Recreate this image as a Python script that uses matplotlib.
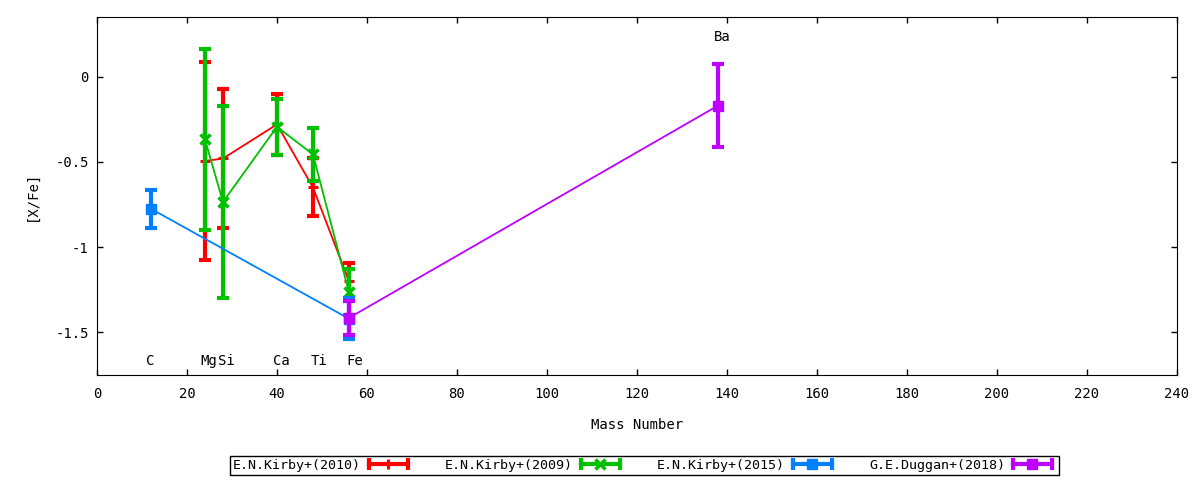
import matplotlib
matplotlib.use('Agg')
import matplotlib.pyplot as plt
from matplotlib.lines import Line2D
from matplotlib.legend_handler import HandlerLine2D, HandlerTuple

plt.rcParams['font.family'] = ['DejaVu Sans Mono']
plt.rcParams['font.size'] = 10

# Datos: [X/Fe] en funcion del numero masico
kirby2010_x = [24, 28, 40, 48, 56]
kirby2010_y = [-0.495, -0.48, -0.28, -0.65, -1.20]
kirby2010_err = [0.58, 0.41, 0.18, 0.17, 0.105]

kirby2009_x = [24, 28, 40, 48, 56]
kirby2009_y = [-0.368, -0.735, -0.294, -0.456, -1.265]
kirby2009_err = [0.53, 0.565, 0.165, 0.155, 0.135]

kirby2015_x = [12, 56]
kirby2015_y = [-0.775, -1.42]
kirby2015_err = [0.11, 0.12]

duggan2018_x = [56, 138]
duggan2018_y = [-1.415, -0.17]
duggan2018_err = [0.10, 0.245]

elementos = ['C', 'Mg', 'Si', 'Ca', 'Ti', 'Fe', 'Ba']
elementos_x = [11, 23, 27, 39.2, 47.5, 55.5, 137]
elementos_y = [-1.67, -1.67, -1.67, -1.67, -1.67, -1.67, 0.23]

series = [
    ('E.N.Kirby+(2010)', kirby2010_x, kirby2010_y, kirby2010_err, '#ff0000', '+', 7.5, 2.2),
    ('E.N.Kirby+(2009)', kirby2009_x, kirby2009_y, kirby2009_err, '#00c000', 'x', 6.5, 2.5),
    ('E.N.Kirby+(2015)', kirby2015_x, kirby2015_y, kirby2015_err, '#0080ff', 's', 7, 1),
    ('G.E.Duggan+(2018)', duggan2018_x, duggan2018_y, duggan2018_err, '#c000ff', 's', 7, 1),
]

fig = plt.figure(figsize=(12, 4.8), dpi=100)
ax = fig.add_axes([0.0808, 0.21875, 0.9, 0.74585])

handles = []
handler_map = {}
z = 2
for nombre, x, y, err, color, marker, ms, mew in series:
    ax.errorbar(x, y, yerr=err, fmt='none', ecolor=color, elinewidth=3,
                capsize=4, capthick=3, zorder=z)
    ax.plot(x, y, color=color, lw=1.3, marker=marker, ms=ms, mew=mew,
            mec=color, mfc=color, zorder=z + 1)
    z += 2
    barra = Line2D([], [], color=color, lw=3, marker='|', ms=8, mew=3)
    centro = Line2D([], [], color=color, lw=0, marker=marker, ms=ms, mew=mew,
                    mec=color, mfc=color)
    handler_map[barra] = HandlerLine2D(numpoints=2)
    handler_map[centro] = HandlerLine2D(numpoints=1)
    handles.append((barra, centro))

for nombre, ex, ey in zip(elementos, elementos_x, elementos_y):
    ax.text(ex, ey, nombre, ha='left', va='center')

ax.set_xlim(0, 240)
ax.set_ylim(-1.75, 0.35)
ax.set_xticks(range(0, 241, 20))
ax.set_yticks([0, -0.5, -1, -1.5])
ax.set_yticklabels(['0', '-0.5', '-1', '-1.5'])
ax.tick_params(direction='in', top=True, right=True, length=4, width=1)
ax.tick_params(axis='x', pad=9)
ax.tick_params(axis='y', pad=6)
ax.set_xlabel('Mass Number', labelpad=12)
ax.set_ylabel('[X/Fe]', labelpad=12)

handler_map[tuple] = HandlerTuple(ndivide=1, pad=0)
leg = fig.legend(handles, [s[0] for s in series], handler_map=handler_map,
                 loc='center', bbox_to_anchor=(0.537, 0.0302), ncol=4,
                 markerfirst=False, fancybox=False, edgecolor='black',
                 framealpha=1, handlelength=3.5, handletextpad=0.3,
                 columnspacing=2.5, borderpad=0.25, prop={'size': 9.6})
leg.get_frame().set_linewidth(1)

plt.savefig('out.png')
